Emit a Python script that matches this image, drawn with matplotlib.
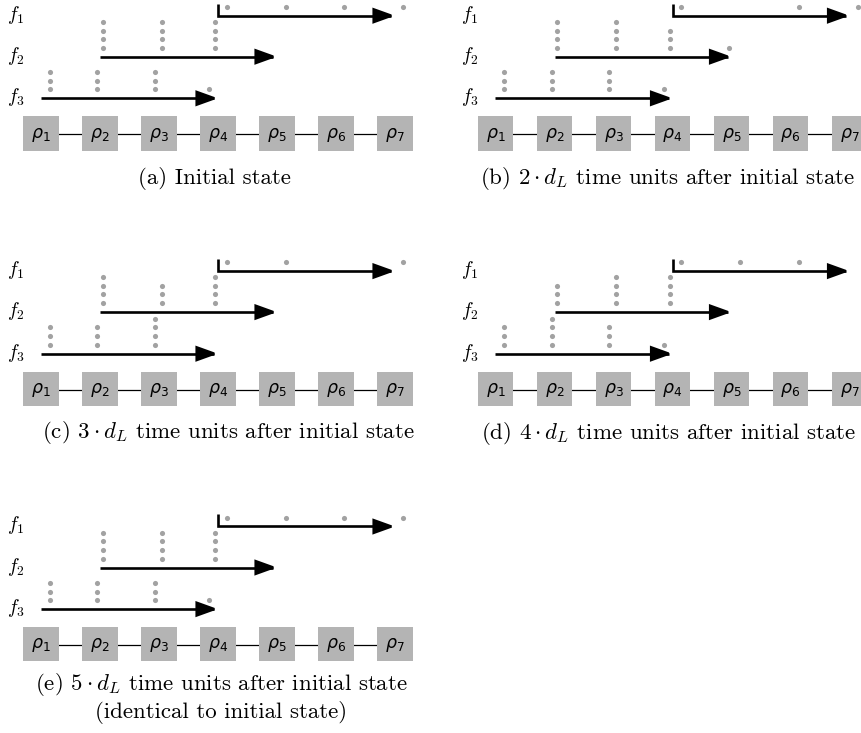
import matplotlib
matplotlib.use("Agg")
import matplotlib.pyplot as plt
from matplotlib.patches import Rectangle, FancyArrowPatch
from matplotlib.path import Path

plt.rcParams['mathtext.fontset'] = 'cm'

# ---------------- data ----------------
nodes = [r'\rho_1', r'\rho_2', r'\rho_3', r'\rho_4', r'\rho_5', r'\rho_6', r'\rho_7']
flows = ['f_1', 'f_2', 'f_3']
flow_start = [4, 2, 1]          # source node of each flow
flow_end = [7, 5, 4]            # destination node of each flow
# positions (in node units) of the packet stacks for each flow
f1_pos = [4.15, 5.15, 6.14, 7.14]
f2_pos = [2.05, 3.05, 3.95, 4.95]
f3_pos = [1.15, 1.95, 2.93, 3.85]
# number of packets at each stack position, per panel
panel_a = {'f_1': [1, 1, 1, 1], 'f_2': [4, 4, 4, 0], 'f_3': [3, 3, 3, 1]}
panel_b = {'f_1': [1, 0, 1, 1], 'f_2': [4, 4, 3, 1], 'f_3': [3, 3, 3, 1]}
panel_c = {'f_1': [1, 1, 0, 1], 'f_2': [4, 3, 4, 0], 'f_3': [3, 3, 4, 0]}
panel_d = {'f_1': [1, 1, 1, 0], 'f_2': [3, 4, 4, 0], 'f_3': [3, 4, 3, 1]}
panel_e = {'f_1': [1, 1, 1, 1], 'f_2': [4, 4, 4, 0], 'f_3': [3, 3, 3, 1]}
captions = [
    r'(a) Initial state',
    r'(b) $2\cdot d_L$ time units after initial state',
    r'(c) $3\cdot d_L$ time units after initial state',
    r'(d) $4\cdot d_L$ time units after initial state',
    '(e) $5\\cdot d_L$ time units after initial state\n(identical to initial state)',
]

# ---------------- layout ----------------
W, H = 862, 733
PX_PER_NODE = 59.0
NODE0_PX = 41.0
PANEL_W, PANEL_H = 420, 240
ROW_Y = [15.7, 56.7, 98.3]
BOX_Y0, BOX_H, BOX_W = 116.3, 34.4, 35.3
DOT_GAP0, DOT_GAP = 9.0, 8.6
BOX_COLOR = '#b4b4b4'
DOT_COLOR = '#a2a2a2'

# (x offset px, y offset px, counts, caption centre x px, caption centre y px)
panels = [
    (0.0, 0.0, panel_a, 214.5, 179),
    (454.5, 0.0, panel_b, 213.5, 179),
    (0.0, 255.4, panel_c, 228, 177),
    (454.5, 255.4, panel_d, 213.8, 178),
    (0.0, 510.8, panel_e, 221, 187),
]
positions = {'f_1': f1_pos, 'f_2': f2_pos, 'f_3': f3_pos}

fig = plt.figure(figsize=(W / 100, H / 100), dpi=100)


def draw_panel(ox, oy, counts, cap_x, cap_y, caption):
    ax = fig.add_axes([ox / W, 1 - (oy + PANEL_H) / H, PANEL_W / W, PANEL_H / H])
    ax.set_xlim(1 - NODE0_PX / PX_PER_NODE, 1 + (PANEL_W - NODE0_PX) / PX_PER_NODE)
    ax.set_ylim(PANEL_H, 0)
    ax.axis('off')
    bw = BOX_W / PX_PER_NODE
    ycen = BOX_Y0 + BOX_H / 2
    # connecting links
    for i in range(len(nodes) - 1):
        ax.plot([i + 1, i + 2], [ycen + 0.8, ycen + 0.8], color='black', lw=0.9,
                solid_capstyle='butt', zorder=1)
    # node boxes
    for i, name in enumerate(nodes):
        ax.add_patch(Rectangle((i + 1 - bw / 2, BOX_Y0), bw, BOX_H,
                               facecolor=BOX_COLOR, edgecolor='none', zorder=2))
        ax.text(i + 1, ycen + 1, '$' + name + '$', ha='center', va='center',
                fontsize=12.5, math_fontfamily='dejavusans', zorder=3)
    # flows
    for k, fl in enumerate(flows):
        y = ROW_Y[k]
        ax.text(1 + (15.5 - NODE0_PX) / PX_PER_NODE, y - 1, '$' + fl + '$',
                ha='center', va='center', fontsize=14)
        if k == 0:
            verts = [(flow_start[k], y - 12), (flow_start[k], y), (flow_end[k], y)]
            codes = [Path.MOVETO, Path.LINETO, Path.LINETO]
        else:
            verts = [(flow_start[k], y), (flow_end[k], y)]
            codes = [Path.MOVETO, Path.LINETO]
        arr = FancyArrowPatch(path=Path(verts, codes),
                              arrowstyle='-|>,head_length=1.25,head_width=0.45',
                              mutation_scale=10, color='black', lw=1.9,
                              joinstyle='miter', capstyle='butt', zorder=4)
        ax.add_patch(arr)
        xs, ys = [], []
        for x, n in zip(positions[fl], counts[fl]):
            for j in range(n):
                xs.append(x)
                ys.append(y - DOT_GAP0 - DOT_GAP * j)
        ax.plot(xs, ys, 'o', ms=3.7, color=DOT_COLOR, mec='none', zorder=5)
    # caption
    ax.text(1 + (cap_x - NODE0_PX) / PX_PER_NODE, cap_y, caption, ha='center',
            va='center', fontsize=16.5, family='cmr10', linespacing=1.2)


for (ox, oy, counts, cap_x, cap_y), cap in zip(panels, captions):
    draw_panel(ox, oy, counts, cap_x, cap_y, cap)

fig.savefig('out.png', dpi=100)
